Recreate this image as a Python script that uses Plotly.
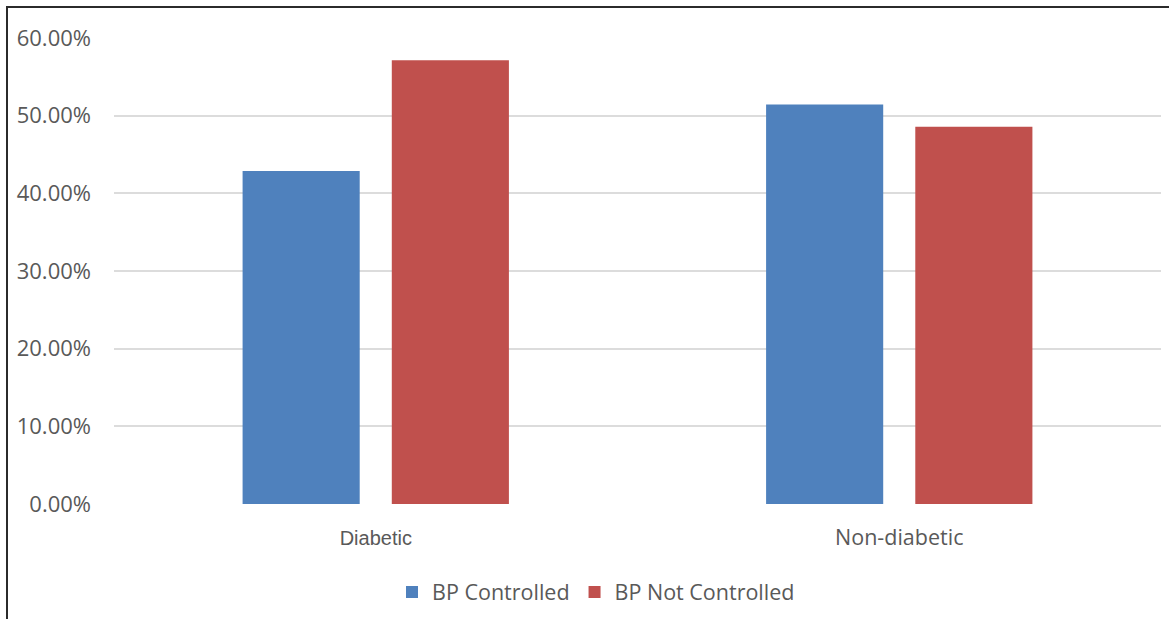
import plotly.graph_objects as go

# Share of patients by blood-pressure control status
categories = ["Diabetic", "Non-diabetic"]
category_labels = [
    '<span style="font-family:Liberation Sans, Arial, sans-serif; font-size:20px">Diabetic</span>',
    "Non-diabetic",
]
bp_controlled = [0.4286, 0.5143]
bp_not_controlled = [0.5714, 0.4857]
y_ticks = [0, 0.1, 0.2, 0.3, 0.4, 0.5, 0.6]

BLUE = "#4f81bd"
RED = "#c0504d"
TEXT = "#595959"
GRID = "#dcdcdc"

fig = go.Figure()
fig.add_trace(go.Bar(name="BP Controlled", x=categories, y=bp_controlled,
                     marker=dict(color=BLUE, line=dict(width=0))))
fig.add_trace(go.Bar(name="BP Not Controlled", x=categories, y=bp_not_controlled,
                     marker=dict(color=RED, line=dict(width=0))))

W, H = 1169, 619
ml, mr, mt, mb = 114, 8, 38, 114
pw, ph = W - ml - mr, H - mt - mb

# outer frame: left and top edges only
fx = (7 - ml) / pw
fy = 1 + (mt - 7) / ph
fig.add_shape(type="path", xref="paper", yref="paper",
              path=f"M {fx} {-(mb + 10) / ph} L {fx} {fy} L {1 + (mr + 10) / pw} {fy}",
              line=dict(color="#2b2b2b", width=2))

fig.update_layout(
    width=W, height=H,
    margin=dict(l=ml, r=mr, t=mt, b=mb),
    paper_bgcolor="white", plot_bgcolor="white",
    barmode="group", bargap=0.43, bargroupgap=0.215,
    font=dict(family="Open Sans, sans-serif", color=TEXT, size=20),
    showlegend=True,
    legend=dict(orientation="h", x=(596 - ml) / pw, xanchor="center",
                y=-(592 - (H - mb)) / ph, yanchor="middle",
                font=dict(size=21.5, color=TEXT), itemsizing="constant",
                traceorder="normal", itemwidth=30),
    xaxis=dict(tickmode="array", tickvals=categories, ticktext=category_labels,
               showgrid=False, showline=False, ticks="", zeroline=False,
               tickfont=dict(size=21.5, color=TEXT), ticklabelstandoff=18),
    yaxis=dict(range=[0, 0.6], tickvals=y_ticks, tickformat=".2%",
               showgrid=True, gridcolor=GRID, gridwidth=1.5,
               zeroline=False, showline=False, ticks="",
               tickfont=dict(size=22, color=TEXT), ticklabelstandoff=22),
)

fig.write_html("out.html")
